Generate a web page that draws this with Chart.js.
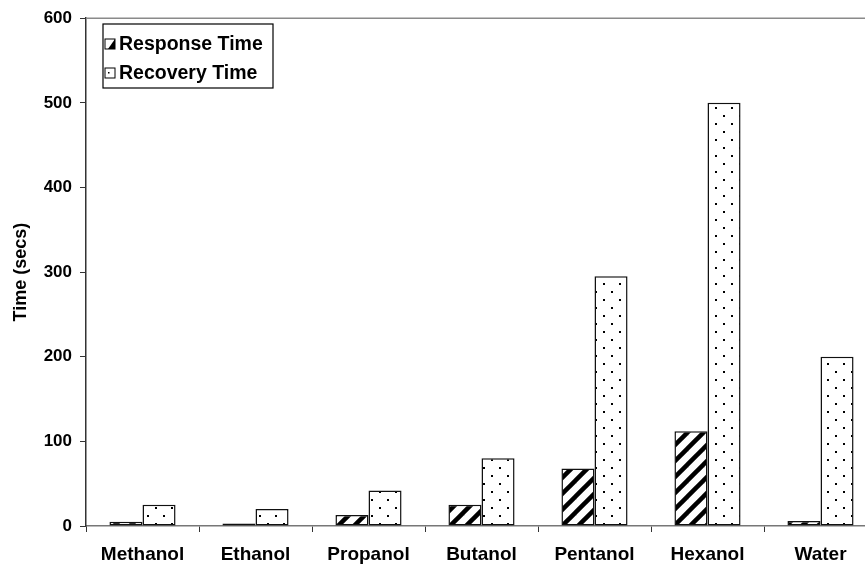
<!DOCTYPE html>
<html>
<head>
<meta charset="utf-8">
<script src="https://cdn.jsdelivr.net/npm/chart.js@4/dist/chart.umd.min.js"></script>
<style>
  html, body { margin: 0; padding: 0; background: #fff; overflow: hidden; }
  #wrap { position: absolute; left: 0; top: 0; width: 880px; height: 569px; }
</style>
</head>
<body>
<div id="wrap"><canvas id="timeChart" width="880" height="569"></canvas></div>
<script>
const solvents = ["Methanol", "Ethanol", "Propanol", "Butanol", "Pentanol", "Hexanol", "Water"];
const responseTime = [5, 3, 13, 25, 68, 112, 6];
const recoveryTime = [25, 20, 42, 80, 295, 500, 200];
const yTicks = [0, 100, 200, 300, 400, 500, 600];

const FONT = '"Liberation Sans", Arial, sans-serif';

// fill patterns like the old spreadsheet chart
function hatchPattern() {
    const c = document.createElement('canvas');
    c.width = 16; c.height = 16;
    const g = c.getContext('2d');
    g.fillStyle = '#fff';
    g.fillRect(0, 0, 16, 16);
    g.strokeStyle = '#000';
    g.lineWidth = 4.5;
    [0, 16, 32].forEach(s => {
        g.beginPath();
        g.moveTo(s - 20, 20);
        g.lineTo(s + 20, -20);
        g.stroke();
    });
    return g.createPattern(c, 'repeat');
}

function dotPattern() {
    const c = document.createElement('canvas');
    c.width = 16; c.height = 16;
    const g = c.getContext('2d');
    g.fillStyle = '#fff';
    g.fillRect(0, 0, 16, 16);
    g.fillStyle = '#000';
    g.fillRect(3, 3, 2, 2);
    g.fillRect(11, 11, 2, 2);
    return g.createPattern(c, 'repeat');
}

const hatch = hatchPattern();
const dots = dotPattern();

// boxed legend in the top left corner + top frame line
const boxLegend = {
    id: 'boxLegend',
    afterDraw(chart) {
        const ctx = chart.ctx;
        const area = chart.chartArea;
        ctx.save();
        ctx.strokeStyle = '#8a8a8a';
        ctx.lineWidth = 1.5;
        ctx.beginPath();
        ctx.moveTo(area.left, area.top);
        ctx.lineTo(chart.width, area.top);
        ctx.stroke();

        const x = 103, y = 24, w = 170, h = 64;
        ctx.fillStyle = '#fff';
        ctx.fillRect(x, y, w, h);
        ctx.strokeStyle = '#000';
        ctx.lineWidth = 1.2;
        ctx.strokeRect(x, y, w, h);
        ctx.font = 'bold 19.5px ' + FONT;
        ctx.textBaseline = 'middle';
        chart.data.datasets.forEach((ds, i) => {
            const cy = 44 + i * 29;
            ctx.fillStyle = '#fff';
            ctx.fillRect(105, cy - 5, 10, 10);
            if (i === 0) {
                // little corner wedge like the original swatch
                ctx.fillStyle = '#000';
                ctx.beginPath();
                ctx.moveTo(115, cy - 5);
                ctx.lineTo(115, cy + 5);
                ctx.lineTo(108, cy + 5);
                ctx.closePath();
                ctx.fill();
            } else {
                ctx.fillStyle = '#000';
                ctx.fillRect(108, cy - 1, 1.5, 1.5);
            }
            ctx.strokeStyle = '#000';
            ctx.lineWidth = 1;
            ctx.strokeRect(105, cy - 5, 10, 10);
            ctx.fillStyle = '#000';
            ctx.fillText(ds.label, 119, cy + 1);
        });
        ctx.restore();
    }
};

const ctx = document.getElementById('timeChart').getContext('2d');
const chart = new Chart(ctx, {
    type: 'bar',
    data: {
        labels: solvents,
        datasets: [{
            label: 'Response Time',
            data: responseTime,
            backgroundColor: hatch,
            borderColor: '#111',
            borderWidth: 1.5,
            borderSkipped: false
        }, {
            label: 'Recovery Time',
            data: recoveryTime,
            backgroundColor: dots,
            borderColor: '#111',
            borderWidth: 1.5,
            borderSkipped: false
        }]
    },
    options: {
        responsive: false,
        animation: false,
        devicePixelRatio: 1,
        layout: { padding: { top: 13, right: 3, left: 0, bottom: 0 } },
        datasets: {
            bar: { categoryPercentage: 0.585, barPercentage: 1 }
        },
        plugins: {
            legend: { display: false },
            tooltip: { enabled: false }
        },
        scales: {
            x: {
                offset: true,
                afterFit: s => { s.height = 43; },
                grid: { offset: true, drawOnChartArea: false, tickLength: 6, color: '#333' },
                border: { color: '#777', width: 1.5 },
                ticks: {
                    color: '#000',
                    padding: 11,
                    maxRotation: 0,
                    font: { family: FONT, size: 19, weight: 'bold' }
                }
            },
            y: {
                min: 0,
                max: 600,
                afterFit: s => { s.width = 86; },
                afterBuildTicks: s => { s.ticks = yTicks.map(v => ({ value: v })); },
                grid: { drawOnChartArea: false, tickLength: 6, color: '#333' },
                border: { color: '#333', width: 1.5 },
                title: {
                    display: true,
                    text: 'Time (secs)',
                    color: '#000',
                    padding: { top: 10, bottom: 0 },
                    font: { family: FONT, size: 18, weight: 'bold' }
                },
                ticks: {
                    color: '#000',
                    padding: 8,
                    font: { family: FONT, size: 17, weight: 'bold' }
                }
            }
        }
    },
    plugins: [boxLegend]
});
</script>
</body>
</html>
